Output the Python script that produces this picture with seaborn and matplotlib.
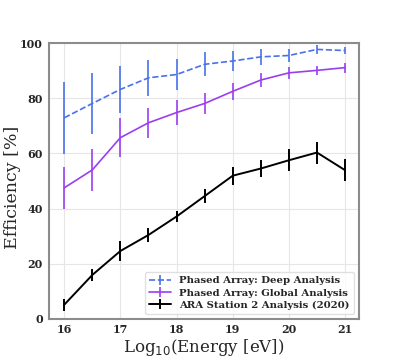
import numpy as np
import matplotlib
matplotlib.use("Agg")
import matplotlib.pyplot as plt
import seaborn as sns

# energies (log10 eV)
energy = [16, 16.5, 17, 17.5, 18, 18.5, 19, 19.5, 20, 20.5, 21]

deep_eff = [72.9, 78.1, 83.2, 87.4, 88.6, 92.3, 93.5, 95.0, 95.5, 97.7, 97.3]
deep_err = [13.0, 11.0, 8.5, 6.5, 5.5, 4.3, 3.5, 3.0, 2.5, 1.5, 1.3]

glob_eff = [47.5, 54.0, 65.7, 71.1, 74.8, 78.1, 82.5, 86.6, 89.2, 90.1, 91.1]
glob_err = [7.5, 7.5, 7.0, 5.5, 4.5, 3.7, 3.2, 2.7, 2.1, 1.5, 1.8]

ara_eff = [5.1, 15.9, 24.6, 30.4, 37.1, 44.5, 51.9, 54.5, 57.5, 60.3, 53.9]
ara_err = [2.2, 2.2, 3.5, 2.5, 2.0, 2.5, 3.2, 3.0, 4.0, 4.0, 4.0]

labels = ["Phased Array: Deep Analysis",
          "Phased Array: Global Analysis",
          "ARA Station 2 Analysis (2020)"]

sns.set_style("whitegrid")
plt.rcParams['font.family'] = ['DejaVu Serif']
plt.rcParams['axes.edgecolor'] = '0.55'
plt.rcParams['grid.color'] = '0.9'

fig, ax = plt.subplots(figsize=(3.99, 3.59), dpi=100)
fig.subplots_adjust(left=0.123, right=0.9, top=0.88, bottom=0.112)

ax.errorbar(energy, deep_eff, yerr=deep_err, color='#4a72e8', ls='--', lw=1.2,
            elinewidth=1.2, label=labels[0])
ax.errorbar(energy, glob_eff, yerr=glob_err, color='#9a3ff0', ls='-', lw=1.2,
            elinewidth=1.2, label=labels[1])
ax.errorbar(energy, ara_eff, yerr=ara_err, color='black', ls='-', lw=1.4,
            elinewidth=1.4, label=labels[2])

ax.set_xlim(15.73, 21.25)
ax.set_ylim(0, 100)
ax.set_xticks([16, 17, 18, 19, 20, 21])
ax.set_yticks([0, 20, 40, 60, 80, 100])
ax.tick_params(axis='both', labelsize=8, length=2.5, width=0.8, color='0.55', pad=2)
ax.tick_params(axis='x', pad=1.5)
for t in ax.get_xticklabels() + ax.get_yticklabels():
    t.set_fontweight('bold')
    t.set_color('0.15')

ax.set_xlabel('Log$_{10}$(Energy [eV])', fontsize=12, labelpad=1)
ax.set_ylabel('Efficiency [%]', fontsize=12.5, va='center')
ax.yaxis.set_label_coords(-0.118, 0.478)
for s in ax.spines.values():
    s.set_linewidth(1.5)
    s.set_color('0.55')

leg = ax.legend(loc='lower right', prop={'weight': 'bold', 'size': 7.3},
                frameon=True, handlelength=2.2, borderpad=0.4, labelspacing=0.3)
leg.get_frame().set_edgecolor('0.85')

fig.savefig('out.png', dpi=100)
